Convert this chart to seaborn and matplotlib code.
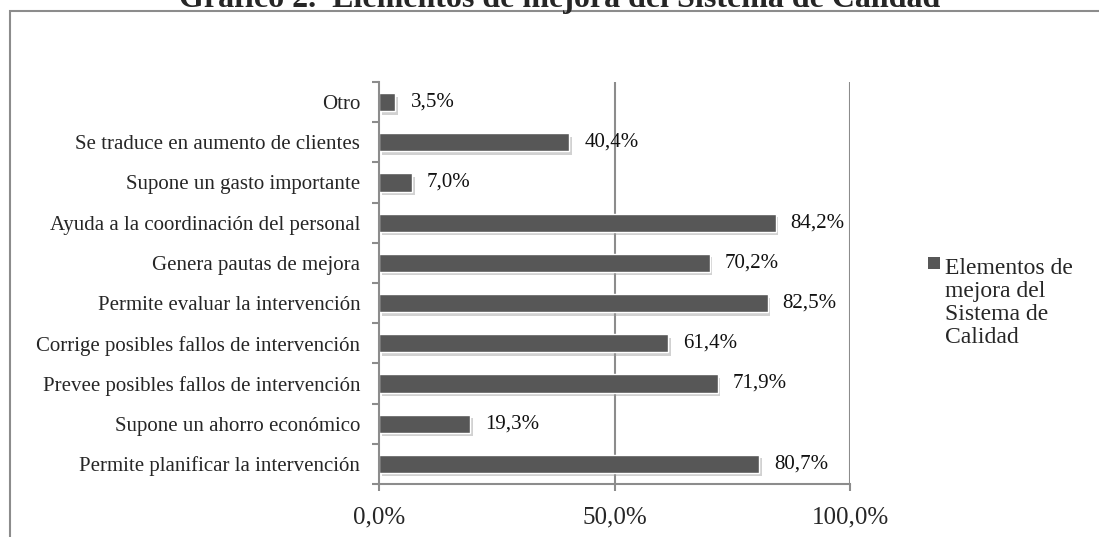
import matplotlib
matplotlib.use("Agg")
import matplotlib.pyplot as plt
import matplotlib.patheffects as pe
from matplotlib.patches import Rectangle
from matplotlib.ticker import FixedLocator, FuncFormatter
import seaborn as sns
import pandas as pd

categories = [
    "Otro",
    "Se traduce en aumento de clientes",
    "Supone un gasto importante",
    "Ayuda a la coordinación del personal",
    "Genera pautas de mejora",
    "Permite evaluar la intervención",
    "Corrige posibles fallos de intervención",
    "Prevee posibles fallos de intervención",
    "Supone un ahorro económico",
    "Permite planificar la intervención",
]
values = [3.5, 40.4, 7.0, 84.2, 70.2, 82.5, 61.4, 71.9, 19.3, 80.7]
series_name = "Elementos de\nmejora del\nSistema de\nCalidad"
title = "Gráfico 2.  Elementos de mejora del Sistema de Calidad"
x_ticks = [0, 50, 100]

df = pd.DataFrame({"categoria": categories, "valor": values})

sns.set_style("white")
plt.rcParams["font.family"] = ["Liberation Serif", "DejaVu Serif"]

W, H = 1099, 537
fig = plt.figure(figsize=(W / 100, H / 100), dpi=100)
grey = "#8c8c8c"

# outer chart frame
fig.patches.append(Rectangle((9.5 / W, -0.1), 1.2, 1 - 11 / H + 0.1,
                             transform=fig.transFigure, fill=False,
                             edgecolor=grey, linewidth=1.5))

ax = fig.add_axes([379 / W, 1 - 484 / H, (850 - 379) / W, (484 - 82) / H])

bar_color = "#575757"
sns.barplot(data=df, x="valor", y="categoria", orient="h", color=bar_color,
            width=0.45, saturation=1, ax=ax)

for p in ax.patches:
    p.set_path_effects([pe.SimplePatchShadow(offset=(2, -2.5), shadow_rgbFace="#999999",
                                             alpha=0.45), pe.Normal()])

for i, v in enumerate(values):
    ax.annotate(f"{v:.1f}%".replace(".", ","), (v, i), xytext=(15, 0),
                textcoords="offset pixels", va="center", ha="left",
                fontsize=15, color="#111111")

ax.set_xlim(0, 100)
ax.set_ylim(len(categories) - 0.5, -0.5)
ax.set_xlabel("")
ax.set_ylabel("")

ax.xaxis.set_major_locator(FixedLocator(x_ticks))
ax.xaxis.set_major_formatter(FuncFormatter(lambda x, _: f"{x:.1f}%".replace(".", ",")))
ax.tick_params(axis="x", length=5, width=1.5, color=grey, direction="out",
               labelsize=18, pad=11, bottom=True)
for xv in x_ticks[1:]:
    ax.axvline(xv, color=grey, linewidth=1.5, zorder=0)

ax.yaxis.set_minor_locator(FixedLocator([i - 0.5 for i in range(len(categories) + 1)]))
ax.tick_params(axis="y", which="major", length=0, labelsize=15, pad=13.5)
ax.tick_params(axis="y", which="minor", length=5, width=1.5, color=grey,
               direction="out", left=True)

for side in ["top", "right"]:
    ax.spines[side].set_visible(False)
for side in ["left", "bottom"]:
    ax.spines[side].set_color(grey)
    ax.spines[side].set_linewidth(1.5)

fig.text(560 / W, 1 - 7 / H, title, ha="center", va="baseline",
         fontsize=23, fontweight="bold")

# legend: square key beside the first line of the series name
fig.patches.append(Rectangle((928 / W, 1 - 269 / H), 12 / W, 12 / H,
                             transform=fig.transFigure, facecolor=bar_color,
                             edgecolor="none"))
fig.text(945 / W, 1 - 303 / H, series_name, ha="left", va="center",
         fontsize=17, linespacing=1.14)

fig.savefig("out.png", dpi=100)
